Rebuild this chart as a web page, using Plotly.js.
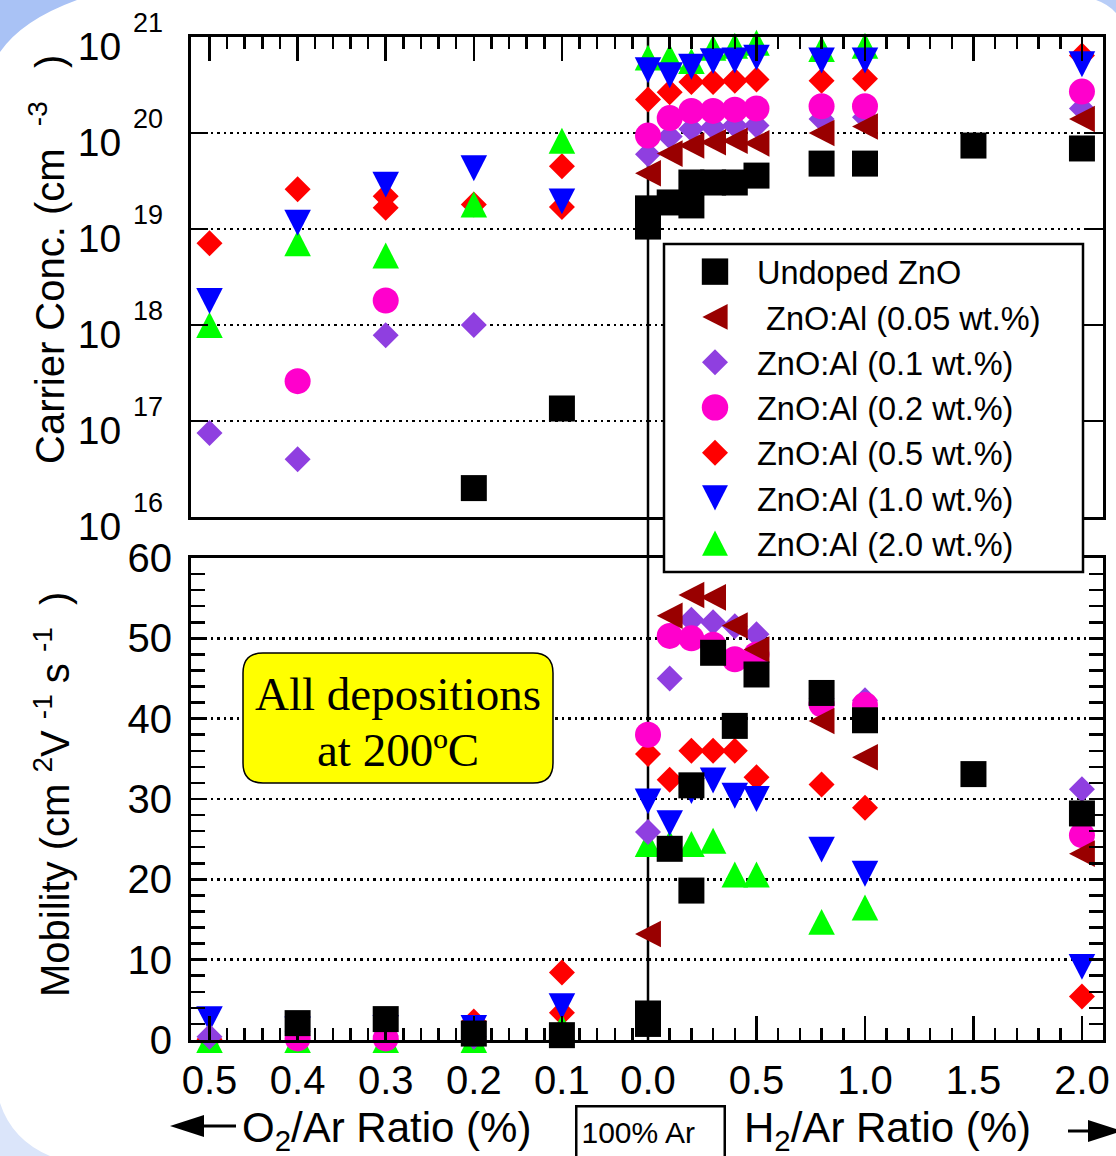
<!DOCTYPE html>
<html>
<head>
<meta charset="utf-8">
<script src="https://cdn.plot.ly/plotly-3.0.1.min.js"></script>
<style>
  html, body { margin: 0; padding: 0; background: #ffffff; }
  #chart { width: 1116px; height: 1156px; }
</style>
</head>
<body>
<div id="chart"></div>
<script>
// ---------------------------------------------------------------------------
// Carrier concentration and Hall mobility of sputtered ZnO / ZnO:Al films
// versus the O2/Ar (left half) or H2/Ar (right half) gas ratio.
// ---------------------------------------------------------------------------

// Undoped ZnO
const undopedO2Ratio = [0.4, 0.3, 0.2, 0.1];
const undopedO2Conc  = [null, null, 2.0e16, 1.35e17];
const undopedO2Mob   = [2.1, 2.6, 0.8, 0.6];
const undopedH2Ratio = [0.0, 0.0, 0.1, 0.2, 0.2, 0.3, 0.4, 0.5, 0.8, 1.0, 1.5, 2.0];
const undopedH2Conc  = [1.64e19, 1.06e19, 1.89e19, 3.05e19, 1.76e19, 3.05e19, 3.05e19, 3.6e19, 4.8e19, 4.8e19, 7.4e19, 6.9e19];
const undopedH2Mob   = [3.3, 2.0, 23.8, 31.7, 18.6, 48.2, 39.1, 45.5, 43.2, 39.8, 33.1, 28.2];

// ZnO:Al 0.05 wt.%
const al005O2Ratio = [];
const al005O2Conc  = [];
const al005O2Mob   = [];
const al005H2Ratio = [0.0, 0.1, 0.2, 0.3, 0.4, 0.5, 0.8, 1.0, 2.0];
const al005H2Conc  = [3.8e19, 6.1e19, 7.4e19, 8.0e19, 8.3e19, 7.8e19, 1.0e20, 1.17e20, 1.4e20];
const al005H2Mob   = [13.2, 52.8, 55.4, 55.1, 51.6, 48.6, 39.7, 35.2, 23.2];

// ZnO:Al 0.1 wt.%
const al01O2Ratio = [0.5, 0.4, 0.3, 0.2];
const al01O2Conc  = [7.5e16, 4.0e16, 7.8e17, 1.0e18];
const al01O2Mob   = [0.4, 1.1, 0.5, 0.4];
const al01H2Ratio = [0.0, 0.1, 0.2, 0.3, 0.4, 0.5, 0.8, 1.0, 2.0];
const al01H2Conc  = [6.0e19, 9.2e19, 1.1e20, 1.15e20, 1.2e20, 1.2e20, 1.4e20, 1.46e20, 1.8e20];
const al01H2Mob   = [25.9, 45.0, 52.3, 52.0, 51.5, 50.5, 42.5, 42.3, 31.2];

// ZnO:Al 0.2 wt.%
const al02O2Ratio = [0.4, 0.3];
const al02O2Conc  = [2.6e17, 1.8e18];
const al02O2Mob   = [0.2, 0.2];
const al02H2Ratio = [0.0, 0.1, 0.2, 0.3, 0.4, 0.5, 0.8, 1.0, 2.0];
const al02H2Conc  = [9.4e19, 1.43e20, 1.7e20, 1.7e20, 1.75e20, 1.8e20, 1.9e20, 1.9e20, 2.7e20];
const al02H2Mob   = [38.0, 50.3, 50.0, 49.2, 47.4, 48.0, 41.8, 41.7, 25.5];

// ZnO:Al 0.5 wt.%
const al05O2Ratio = [0.5, 0.4, 0.3, 0.3, 0.2, 0.1, 0.1];
const al05O2Conc  = [7.1e18, 2.6e19, 2.2e19, 1.66e19, 1.8e19, 4.5e19, 1.7e19];
const al05O2Mob   = [0.1, 0.0, 0.0, 0.0, 2.3, 8.4, 3.4];
const al05H2Ratio = [0.0, 0.1, 0.2, 0.3, 0.4, 0.5, 0.8, 1.0, 2.0];
const al05H2Conc  = [2.24e20, 2.66e20, 3.4e20, 3.4e20, 3.5e20, 3.6e20, 3.5e20, 3.67e20, 6.4e20];
const al05H2Mob   = [35.6, 32.4, 36.0, 36.0, 36.0, 32.7, 31.8, 28.9, 5.4];

// ZnO:Al 1.0 wt.%
const al10O2Ratio = [0.5, 0.4, 0.3, 0.2, 0.1];
const al10O2Conc  = [1.78e18, 1.16e19, 2.9e19, 4.3e19, 1.94e19];
const al10O2Mob   = [2.6, 1.3, 1.5, 1.5, 4.2];
const al10H2Ratio = [0.0, 0.1, 0.2, 0.3, 0.4, 0.5, 0.8, 1.0, 2.0];
const al10H2Conc  = [4.5e20, 4.0e20, 4.9e20, 5.6e20, 5.7e20, 6.1e20, 5.7e20, 5.7e20, 5.2e20];
const al10H2Mob   = [29.7, 27.0, 31.0, 32.3, 30.4, 30.0, 23.7, 20.7, 9.1];

// ZnO:Al 2.0 wt.%
const al20O2Ratio = [0.5, 0.4, 0.3, 0.2, 0.1];
const al20O2Conc  = [1.0e18, 7.1e18, 5.3e18, 1.8e19, 8.3e19];
const al20O2Mob   = [0.0, 0.0, 0.0, 0.0, 1.6];
const al20H2Ratio = [0.0, 0.1, 0.2, 0.3, 0.4, 0.5, 0.8, 1.0];
const al20H2Conc  = [6.1e20, 6.2e20, 5.6e20, 7.7e20, 8.1e20, 8.7e20, 7.5e20, 8.1e20];
const al20H2Mob   = [24.4, 24.5, 24.4, 24.8, 20.6, 20.6, 14.7, 16.5];

// Tick labels
const o2TickVals  = [0.5, 0.4, 0.3, 0.2, 0.1];
const o2TickText  = ['0.5', '0.4', '0.3', '0.2', '0.1'];
const h2TickVals  = [0.0, 0.5, 1.0, 1.5, 2.0];
const h2TickText  = ['0.0', '0.5', '1.0', '1.5', '2.0'];
const concExponents = [16, 17, 18, 19, 20, 21];
const mobTickVals = [0, 10, 20, 30, 40, 50, 60];

// ---------------------------------------------------------------------------
// Styling
// ---------------------------------------------------------------------------
const SANS  = 'Liberation Sans, Arial, Helvetica, sans-serif';
const SERIF = 'Liberation Serif, Times New Roman, serif';
const NB = '\u00A0';

const series = [
  { name: 'Undoped ZnO',              color: '#000000', symbol: 'square',        size: 26, rank: 1,
    o2: [undopedO2Ratio, undopedO2Conc, undopedO2Mob], h2: [undopedH2Ratio, undopedH2Conc, undopedH2Mob] },
  { name: NB + 'ZnO:Al (0.05 wt.%)',  color: '#990000', symbol: 'triangle-left', size: 23, rank: 2,
    o2: [al005O2Ratio, al005O2Conc, al005O2Mob], h2: [al005H2Ratio, al005H2Conc, al005H2Mob] },
  { name: 'ZnO:Al (0.1 wt.%)',        color: '#8f3fe0', symbol: 'diamond',       size: 20, rank: 3,
    o2: [al01O2Ratio, al01O2Conc, al01O2Mob], h2: [al01H2Ratio, al01H2Conc, al01H2Mob] },
  { name: 'ZnO:Al (0.2 wt.%)',        color: '#ff00cc', symbol: 'circle',        size: 26, rank: 4,
    o2: [al02O2Ratio, al02O2Conc, al02O2Mob], h2: [al02H2Ratio, al02H2Conc, al02H2Mob] },
  { name: 'ZnO:Al (0.5 wt.%)',        color: '#ff0000', symbol: 'diamond',       size: 20, rank: 5,
    o2: [al05O2Ratio, al05O2Conc, al05O2Mob], h2: [al05H2Ratio, al05H2Conc, al05H2Mob] },
  { name: 'ZnO:Al (1.0 wt.%)',        color: '#0000ff', symbol: 'triangle-down', size: 23, rank: 6,
    o2: [al10O2Ratio, al10O2Conc, al10O2Mob], h2: [al10H2Ratio, al10H2Conc, al10H2Mob] },
  { name: 'ZnO:Al (2.0 wt.%)',        color: '#00ff00', symbol: 'triangle-up',   size: 23, rank: 7,
    o2: [al20O2Ratio, al20O2Conc, al20O2Mob], h2: [al20H2Ratio, al20H2Conc, al20H2Mob] }
];

// back-to-front drawing order (indices into series)
const drawOrder = [4, 6, 5, 2, 3, 1, 0];

// figure frame in pixels, used to place decorations in paper coordinates
const FR = { l: 191, r: 1103, t: 37, b: 1040 };
const px = p => (p - FR.l) / (FR.r - FR.l);
const py = p => (FR.b - p) / (FR.b - FR.t);

// ---------------------------------------------------------------------------
// Traces: four subplots (O2 / H2 side  x  mobility / concentration)
// ---------------------------------------------------------------------------
const traces = [];
drawOrder.forEach(i => {
  const s = series[i];
  const marker = { symbol: s.symbol, size: s.size, color: s.color, line: { width: 0 } };
  const base = { type: 'scatter', mode: 'markers', marker, cliponaxis: false,
                 hoverinfo: 'skip', legendgroup: 'g' + i, legendrank: s.rank, name: s.name, showlegend: false };
  traces.push(Object.assign({}, base, { x: s.o2[0], y: s.o2[2], xaxis: 'x',  yaxis: 'y'  }));
  traces.push(Object.assign({}, base, { x: s.h2[0], y: s.h2[2], xaxis: 'x2', yaxis: 'y3' }));
  traces.push(Object.assign({}, base, { x: s.o2[0], y: s.o2[1], xaxis: 'x3', yaxis: 'y2' }));
  traces.push(Object.assign({}, base, { x: s.h2[0], y: s.h2[1], xaxis: 'x4', yaxis: 'y4', showlegend: true }));
});

// ---------------------------------------------------------------------------
// Axes
// ---------------------------------------------------------------------------
const xDomO2 = [0, px(648)];
const xDomH2 = [px(648), 1];
const yDomMob  = [0, py(558)];
const yDomConc = [py(517), 1];
const o2Range = [0.521, 0.0023];
const h2Range = [0, 2.097];

const lineStyle = { showline: true, linewidth: 3, linecolor: '#000', zeroline: false };
const xCommon = Object.assign({}, lineStyle, {
  mirror: true, ticks: 'inside', ticklen: 24, tickwidth: 2.5, tickcolor: '#000',
  showgrid: false, tickmode: 'array', tickfont: { family: SANS, size: 40, color: '#000' },
  ticklabelstandoff: 3
});
const gridStyle = { showgrid: true, gridcolor: '#000', gridwidth: 2.5, griddash: '2.5px,4px' };
const minorX = dt => ({ ticks: 'inside', ticklen: 12, tickwidth: 2.5, tickcolor: '#000',
                        tickmode: 'linear', tick0: 0, dtick: dt, showgrid: false });

const layout = {
  width: 1116, height: 1156,
  margin: { l: FR.l, r: 1116 - FR.r, t: FR.t, b: 1156 - FR.b, pad: 0 },
  paper_bgcolor: '#ffffff', plot_bgcolor: 'rgba(0,0,0,0)',
  font: { family: SANS, size: 40, color: '#000' },
  showlegend: true,
  legend: {
    x: px(673), y: py(244), xanchor: 'left', yanchor: 'top',
    bgcolor: 'rgba(0,0,0,0)', borderwidth: 0,
    font: { family: SANS, size: 32.5, color: '#000' },
    itemwidth: 74, traceorder: 'grouped', tracegroupgap: 0
  },
  // mobility panel, O2 side
  xaxis: Object.assign({}, xCommon, {
    domain: xDomO2, range: o2Range, anchor: 'y', side: 'bottom',
    tickvals: o2TickVals, ticktext: o2TickText, minor: minorX(0.02)
  }),
  // mobility panel, H2 side
  xaxis2: Object.assign({}, xCommon, {
    domain: xDomH2, range: h2Range, anchor: 'y3', side: 'bottom',
    tickvals: h2TickVals, ticktext: h2TickText, minor: minorX(0.1)
  }),
  // concentration panel, O2 side
  xaxis3: Object.assign({}, xCommon, {
    domain: xDomO2, range: o2Range, anchor: 'y2', side: 'top', showticklabels: false,
    tickvals: o2TickVals, ticktext: o2TickText, minor: minorX(0.02)
  }),
  // concentration panel, H2 side
  xaxis4: Object.assign({}, xCommon, {
    domain: xDomH2, range: h2Range, anchor: 'y4', side: 'top', showticklabels: false,
    tickvals: h2TickVals, ticktext: h2TickText, minor: minorX(0.1)
  }),
  // mobility, left
  yaxis: Object.assign({}, lineStyle, gridStyle, {
    domain: yDomMob, range: [0, 60], anchor: 'x', side: 'left',
    ticks: 'inside', ticklen: 14, tickwidth: 2.5, tickcolor: '#000',
    tickmode: 'array', tickvals: mobTickVals, ticktext: mobTickVals.map(String),
    tickfont: { family: SANS, size: 40, color: '#000' }, ticklabelstandoff: 8,
    minor: { ticks: 'inside', ticklen: 14, tickwidth: 2.5, tickcolor: '#000', tickmode: 'linear', tick0: 0, dtick: 2, showgrid: false }
  }),
  // mobility, right
  yaxis3: Object.assign({}, lineStyle, gridStyle, {
    domain: yDomMob, range: [0, 60], anchor: 'x2', side: 'right', showticklabels: false,
    ticks: 'inside', ticklen: 14, tickwidth: 2.5, tickcolor: '#000',
    tickmode: 'array', tickvals: mobTickVals,
    minor: { ticks: 'inside', ticklen: 14, tickwidth: 2.5, tickcolor: '#000', tickmode: 'linear', tick0: 0, dtick: 2, showgrid: false }
  }),
  // concentration, left (log)
  yaxis2: Object.assign({}, lineStyle, gridStyle, {
    domain: yDomConc, type: 'log', range: [16, 21], anchor: 'x3', side: 'left',
    ticks: 'inside', ticklen: 17, tickwidth: 2.5, tickcolor: '#000',
    tickmode: 'array', tickvals: concExponents.map(e => Math.pow(10, e)), ticktext: concExponents.map(() => '10'),
    tickfont: { family: SANS, size: 39, color: '#000' }, ticklabelstandoff: 59, ticklabelshift: 9
  }),
  // concentration, right (log)
  yaxis4: Object.assign({}, lineStyle, gridStyle, {
    domain: yDomConc, type: 'log', range: [16, 21], anchor: 'x4', side: 'right', showticklabels: false,
    ticks: 'inside', ticklen: 17, tickwidth: 2.5, tickcolor: '#000',
    tickmode: 'array', tickvals: concExponents.map(e => Math.pow(10, e))
  })
};

// ---------------------------------------------------------------------------
// Shapes
// ---------------------------------------------------------------------------
const P = (x, y) => px(x) + ',' + py(y);
function roundRect(x0, y0, x1, y1, r) {
  return 'M' + P(x0 + r, y0) + ' L' + P(x1 - r, y0) + ' Q' + P(x1, y0) + ' ' + P(x1, y0 + r) +
         ' L' + P(x1, y1 - r) + ' Q' + P(x1, y1) + ' ' + P(x1 - r, y1) +
         ' L' + P(x0 + r, y1) + ' Q' + P(x0, y1) + ' ' + P(x0, y1 - r) +
         ' L' + P(x0, y0 + r) + ' Q' + P(x0, y0) + ' ' + P(x0 + r, y0) + ' Z';
}
layout.shapes = [
  // slide background corners
  { type: 'path', xref: 'paper', yref: 'paper', layer: 'below', line: { width: 0 }, fillcolor: '#a9c2f5',
    path: 'M' + P(-2, -2) + ' L' + P(78, -2) + ' L' + P(77, 0) + ' Q' + P(22, 20) + ' ' + P(0, 52) + ' L' + P(-2, 53) + ' Z' },
  { type: 'path', xref: 'paper', yref: 'paper', layer: 'below', line: { width: 0 }, fillcolor: '#dbe5fa',
    path: 'M' + P(-2, 1102) + ' L' + P(0, 1103) + ' Q' + P(12, 1140) + ' ' + P(50, 1156) + ' L' + P(51, 1158) + ' L' + P(-2, 1158) + ' Z' },
  { type: 'path', xref: 'paper', yref: 'paper', layer: 'below', line: { width: 0 }, fillcolor: '#b8cdf7',
    path: 'M' + P(1096, -2) + ' L' + P(1118, -2) + ' L' + P(1118, 14) + ' L' + P(1116, 13) + ' Q' + P(1108, 4) + ' ' + P(1096, 0) + ' Z' },
  // 100 % Ar divider
  { type: 'line', xref: 'paper', yref: 'paper', layer: 'below', x0: px(648), x1: px(648), y0: 0, y1: 1,
    line: { color: '#000', width: 2.5 } },
  // legend frame
  { type: 'rect', xref: 'paper', yref: 'paper', layer: 'above',
    x0: px(664), x1: px(1083), y0: py(572), y1: py(244),
    line: { color: '#000', width: 2.5 }, fillcolor: '#ffffff' },
  // deposition-temperature note
  { type: 'path', xref: 'paper', yref: 'paper', layer: 'above',
    path: roundRect(243, 653, 553, 783, 20), line: { color: '#000', width: 1.5 }, fillcolor: '#ffff00' },
  // direction arrows under the axis
  { type: 'line', xref: 'paper', yref: 'paper', x0: px(200), x1: px(236), y0: py(1126), y1: py(1126),
    line: { color: '#000', width: 3 } },
  { type: 'path', xref: 'paper', yref: 'paper', line: { width: 0 }, fillcolor: '#000',
    path: 'M' + P(170, 1126) + ' L' + P(204, 1115) + ' L' + P(204, 1137) + ' Z' },
  { type: 'line', xref: 'paper', yref: 'paper', x0: px(1068), x1: px(1092), y0: py(1131), y1: py(1131),
    line: { color: '#000', width: 3 } },
  { type: 'path', xref: 'paper', yref: 'paper', line: { width: 0 }, fillcolor: '#000',
    path: 'M' + P(1122, 1131) + ' L' + P(1088, 1120) + ' L' + P(1088, 1142) + ' Z' }
];

// ---------------------------------------------------------------------------
// Annotations
// ---------------------------------------------------------------------------
const ann = [];
concExponents.forEach(e => ann.push({
  xref: 'paper', yref: 'y2', x: px(131), y: e, xanchor: 'left', yanchor: 'middle', yshift: 14,
  text: String(e), showarrow: false, font: { family: SANS, size: 27, color: '#000' }
}));
ann.push({
  xref: 'paper', yref: 'paper', x: px(47), y: py(260), xanchor: 'center', yanchor: 'middle', textangle: -90,
  text: 'Carrier Conc. (cm' + NB + NB + '<sup>-3</sup>' + NB + NB + NB + ')', showarrow: false,
  font: { family: SANS, size: 40, color: '#000' }
});
ann.push({
  xref: 'paper', yref: 'paper', x: px(52), y: py(795), xanchor: 'center', yanchor: 'middle', textangle: -90,
  text: 'Mobility (cm' + NB + '<sup>2</sup>V' + NB + '<sup>-1</sup>' + NB + 's' + NB + '<sup>-1</sup>' + NB + NB + ')',
  showarrow: false, font: { family: SANS, size: 40, color: '#000' }
});
ann.push({
  xref: 'paper', yref: 'paper', x: px(240), y: py(1130), xanchor: 'left', yanchor: 'middle',
  text: 'O<sub>2</sub>/Ar Ratio (%)', showarrow: false, font: { family: SANS, size: 42, color: '#000' }
});
ann.push({
  xref: 'paper', yref: 'paper', x: px(742), y: py(1130), xanchor: 'left', yanchor: 'middle',
  text: 'H<sub>2</sub>/Ar Ratio (%)', showarrow: false, font: { family: SANS, size: 42, color: '#000' }
});
ann.push({
  xref: 'paper', yref: 'paper', x: px(575), y: py(1105), xanchor: 'left', yanchor: 'top',
  width: 138, height: 42, align: 'left', valign: 'middle', borderpad: 4,
  bordercolor: '#000', borderwidth: 2.5, bgcolor: '#ffffff',
  text: '100% Ar', showarrow: false, font: { family: SANS, size: 30, color: '#000' }
});
ann.push({
  xref: 'paper', yref: 'paper', x: px(398), y: py(694), xanchor: 'center', yanchor: 'middle',
  text: 'All depositions', showarrow: false, font: { family: SERIF, size: 47, color: '#000' }
});
ann.push({
  xref: 'paper', yref: 'paper', x: px(398), y: py(750), xanchor: 'center', yanchor: 'middle',
  text: 'at 200\u00BAC', showarrow: false, font: { family: SERIF, size: 47, color: '#000' }
});
layout.annotations = ann;

// ---------------------------------------------------------------------------
// Marker glyph shaping: triangles drawn equilateral-tall and centred on their
// box; legend glyphs enlarged beyond Plotly's 16 px legend cap.
// ---------------------------------------------------------------------------
function shapeGlyph(el, symbol, r, grow) {
  const t = el.getAttribute('transform') || '';
  let sx = grow, sy = grow, dx = 0, dy = 0;
  if (symbol === 'triangle-up')        { sy *= 1.5; dy =  r / 4; }
  else if (symbol === 'triangle-down') { sy *= 1.5; dy = -r / 4; }
  else if (symbol === 'triangle-left') { sx *= 1.5; dx =  r / 4; }
  el.setAttribute('transform', t + ' scale(' + sx + ',' + sy + ') translate(' + dx + ',' + dy + ')');
}
const legendGrow = { 'square': 1.65, 'circle': 1.65, 'diamond': 1.25,
                     'triangle-up': 1.4, 'triangle-down': 1.4, 'triangle-left': 1.4 };

function reshape(gd) {
  gd.querySelectorAll('.scatterlayer g.trace').forEach(g => {
    const d = g.__data__; if (!d || !d[0] || !d[0].trace) return;
    const mk = d[0].trace.marker;
    if (String(mk.symbol).indexOf('triangle') !== 0) return;
    g.querySelectorAll('path.point').forEach(p => shapeGlyph(p, mk.symbol, mk.size / 2, 1));
  });
  gd.querySelectorAll('.legend g.traces').forEach(g => {
    const d = g.__data__; if (!d || !d[0] || !d[0].trace) return;
    const mk = d[0].trace.marker;
    const grow = legendGrow[mk.symbol] || 1;
    g.querySelectorAll('.legendpoints path.scatterpts').forEach(p => shapeGlyph(p, mk.symbol, 8, grow));
  });
}

const gd = document.getElementById('chart');
Plotly.newPlot(gd, traces, layout, { staticPlot: true, displayModeBar: false }).then(() => reshape(gd));
</script>
</body>
</html>
